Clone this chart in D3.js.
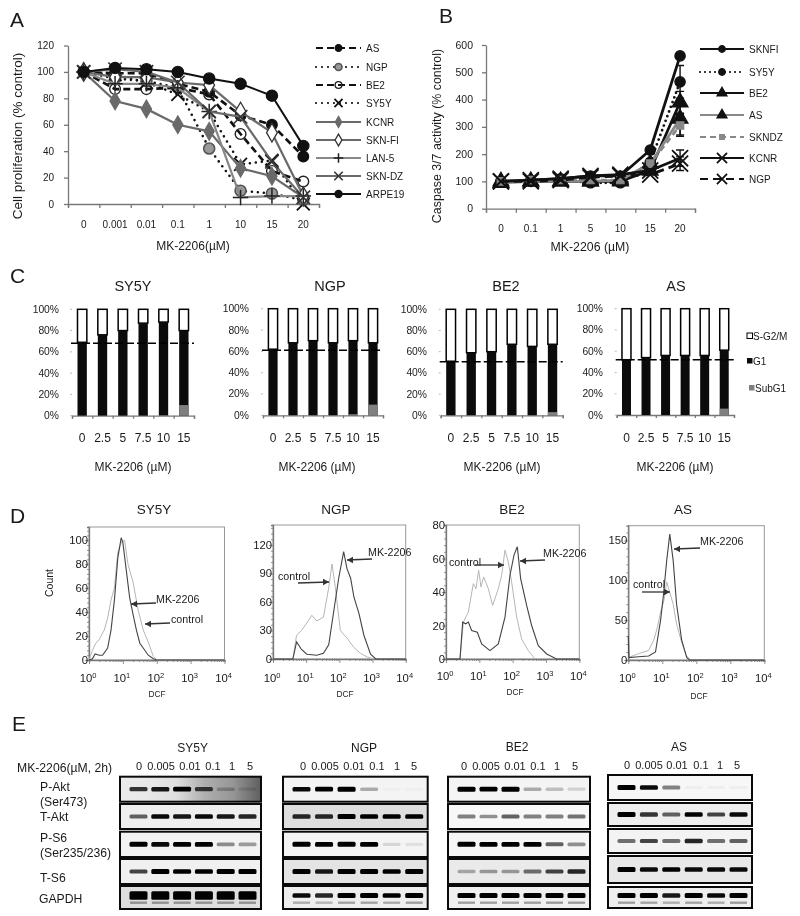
<!DOCTYPE html>
<html><head><meta charset="utf-8">
<script src="https://cdn.jsdelivr.net/npm/d3@7"></script>
<style>html,body{margin:0;padding:0;background:#fff}svg{display:block;filter:blur(.3px)}text{font-family:"Liberation Sans",Arial,sans-serif;fill:#1a1a1a}</style>
</head><body><div id="c"></div>
<script>
// ---------- Panel A data
const doseA=["0","0.001","0.01","0.1","1","10","15","20"];
const aAS=[100,99,99,91,85,67,60,36];
const aNGP=[100,95,93,88,42,10,8,3];
const aBE2=[100,87,87,88,83,53,25,17];
const aSY5Y=[100,98,92,83,70,30,33,0];
const aKCNR=[100,78,72,60,55,27,21,5];
const aSKNFI=[100,96,96,92,90,70,54,6];
const aLAN5=[100,91,91,88,70,5,6,6];
const aSKNDZ=[100,102,100,92,70,66,32,5];
const aARPE19=[100,103,102,100,95,91,82,44];
// ---------- Panel B data
const doseB=["0","0.1","1","5","10","15","20"];
const bSKNFI=[100,105,110,120,120,215,560];
const bSY5Y=[100,100,105,95,95,170,465];
const bBE2=[100,100,100,100,100,140,390];
const bAS=[95,100,100,100,105,165,330];
const bSKNDZ=[100,105,105,105,105,165,305];
const bKCNR=[100,105,110,120,125,140,185];
const bNGP=[100,100,105,115,120,125,165];
const errB20=[0,60,40,60,40,30,25];
// ---------- Panel C data
const doseC=["0","2.5","5","7.5","10","15"];
const cSY5Y=[69,76,80,87,88,80], cSY5Ysub=[0,0,0,0,.5,10];
const cNGP=[62,68,70,68,70,68], cNGPsub=[0,0,0,0,1,10];
const cBE2=[51,59,60,67,65,67], cBE2sub=[0,0,0,0,0,3];
const cAS=[52,54,56,56,56,61], cASsub=[0,0,0,0,0,6];
const cRef=[68,61,50.5,52];
// ---------- Panel D data: [log10 DCF, count]
const dSY5Ymk=[[0,0],[.1,1],[.18,5],[.3,4],[.4,4],[.55,10],[.65,25],[.75,50],[.85,85],[.95,102],[1,98],[1.1,75],[1.2,52],[1.3,38],[1.4,25],[1.5,14],[1.6,10],[1.75,4],[1.9,1],[2,0],[4,0]];
const dSY5Yctl=[[0,0],[.1,8],[.2,14],[.3,17],[.45,25],[.55,35],[.65,50],[.75,60],[.85,90],[.95,98],[1.05,100],[1.15,80],[1.3,65],[1.45,42],[1.6,25],[1.75,15],[1.9,3],[2,0],[4,0]];
const dNGPmk=[[0,0],[.6,0],[.71,18],[.86,10],[1.02,5],[1.32,4],[1.52,6],[1.68,15],[1.83,50],[1.98,85],[2.13,113],[2.23,95],[2.34,85],[2.44,65],[2.59,48],[2.74,25],[2.94,5],[3.1,0],[4,0]];
const dNGPctl=[[.6,0],[.71,25],[.86,30],[1.02,38],[1.17,46],[1.32,40],[1.52,44],[1.68,75],[1.78,100],[1.88,75],[2.03,30],[2.23,22],[2.44,12],[2.64,6],[2.84,2],[3.05,0]];
const dBE2mk=[[0,0],[.42,0],[.5,22],[.59,21],[.67,22],[.77,17],[.94,16],[1.07,9],[1.32,5],[1.57,9],[1.77,25],[1.92,50],[2.04,62],[2.14,67],[2.24,48],[2.42,32],[2.57,20],[2.77,8],[3.02,3],[3.32,0],[4,0]];
const dBE2ctl=[[.42,0],[.52,22],[.67,28],[.82,45],[.9,42],[.98,53],[1.05,43],[1.13,49],[1.27,42],[1.4,32],[1.57,42],[1.67,50],[1.77,65],[1.87,58],[1.97,46],[2.12,25],[2.27,12],[2.47,5],[2.67,0]];
const dASmk=[[0,30],[.02,3],[.3,4],[.6,5],[.8,10],[.95,50],[1.03,80],[1.13,125],[1.22,158],[1.32,125],[1.42,70],[1.57,25],[1.72,3],[1.81,0],[4,0]];
const dASctl=[[0,3],[.3,8],[.6,12],[.75,25],[.85,40],[.95,60],[1.05,75],[1.13,98],[1.22,85],[1.32,70],[1.42,45],[1.55,25],[1.7,6],[1.82,0]];
const dTicksSY5Y=[0,20,40,60,80,100], dTicksNGP=[0,30,60,90,120], dTicksBE2=[0,20,40,60,80], dTicksAS=[0,50,100,150];
// ---------- Panel E data (band darkness per lane)
const lanes=["0","0.005","0.01","0.1","1","5"];
const rowNames=["P-Akt","T-Akt","P-S6","T-S6","GAPDH"];
const eSY5Y=[[.65,.75,.85,.6,.2,.1],[.5,.8,.75,.8,.75,.7],[1,.8,.95,.9,.35,.3],[.6,.9,.85,.85,.9,.9],[1,1,1,1,1,1]];
const eNGP=[[.8,.85,.95,.25,.02,.02],[.7,.7,.9,.85,.85,.85],[1,.95,1,.95,.1,.07],[.9,.75,.95,.95,.85,1],[.8,.7,.9,.9,.85,.95]];
const eBE2=[[1,.85,.95,.25,.18,.12],[.4,.35,.5,.4,.4,.45],[1,.9,.9,.95,.5,.35],[.25,.3,.3,.45,.6,.7],[.95,.95,.95,.95,1,1]];
const eAS=[[1,.8,.4,.03,.03,.03],[.95,.65,.5,.85,.6,.8],[.45,.6,.45,.7,.45,.5],[.9,.8,.85,.8,.8,.8],[.95,.9,.75,.9,.8,1]];
const eBgSY5Y=[238,238,242,240,222], eBgNGP=[244,222,244,228,238], eBgBE2=[244,248,246,234,240], eBgAS=[247,238,243,232,238];
const sy5yAktBg=[235,232,222,175,150,95];

const W=800,H=916;
const svg=d3.select("#c").append("svg").attr("width",W).attr("height",H).attr("viewBox",[0,0,W,H]);
const T=(x,y,s,size,o={})=>svg.append("text").attr("x",x).attr("y",y).attr("font-size",size)
  .attr("text-anchor",o.a||"start").attr("transform",o.r?`rotate(${o.r} ${x} ${y})`:null).text(s);
const AX="#777";
function style(g){g.selectAll(".domain,line").attr("stroke",AX).attr("stroke-width",1.3);g.selectAll("text").remove();}

// panel letters
[["A",10,27],["B",439,23],["C",10,283],["D",10,523],["E",12,731]].forEach(d=>T(d[1],d[2],d[0],21));

// ---------- line panels
const sym=(t,s)=>d3.symbol().type(t).size(s)();
function linePanel(cfg){
  const y=d3.scaleLinear().domain(cfg.yd).range([cfg.y0,cfg.y1]);
  const n=cfg.cats.length;
  const tx=d3.scaleLinear().domain([0,n]).range([cfg.x0,cfg.x1]);
  const x=d3.scalePoint().domain(cfg.cats).range([tx(.5),tx(n-.5)]);
  svg.append("g").attr("transform",`translate(0,${cfg.y0})`).call(d3.axisBottom(tx).tickValues(d3.range(n+1)).tickSize(4).tickSizeOuter(4)).call(style);
  svg.append("g").attr("transform",`translate(${cfg.x0},0)`).call(d3.axisLeft(y).tickValues(d3.range(cfg.yd[0],cfg.yd[1]+1,cfg.step)).tickSize(4).tickSizeOuter(0)).call(style);
  d3.range(cfg.yd[0],cfg.yd[1]+1,cfg.step).forEach(v=>T(cfg.lx,y(v)+3.5,v,cfg.yfs,{a:"end"}));
  cfg.cats.forEach(c=>T(x(c),cfg.ty,c,10,{a:"middle"}));
  const line=d3.line().x((d,i)=>x(cfg.cats[i])).y(d=>y(d));
  cfg.series.forEach(s=>{
    if(s.err) svg.append("g").selectAll("path").data([s.err]).join("path")
      .attr("d",e=>{const X=x(cfg.cats[n-1]),v=s.v[n-1];return `M${X},${y(v-e)}V${y(v+e)}M${X-4},${y(v-e)}H${X+4}M${X-4},${y(v+e)}H${X+4}`})
      .attr("stroke","#111").attr("stroke-width",1.4).attr("fill","none");
    svg.append("path").attr("d",line(s.v)).attr("fill","none").attr("stroke",s.c).attr("stroke-width",s.w)
      .attr("stroke-dasharray",s.dash||null).attr("stroke-linecap",s.dash&&s.dash.startsWith("0")?"round":"butt");
    svg.append("g").selectAll("path").data(s.v).join("path")
      .attr("transform",(d,i)=>`translate(${x(cfg.cats[i])},${y(d)})`)
      .attr("d",sym(s.t,s.size)).attr("fill",s.f).attr("stroke",s.sc||s.c).attr("stroke-width",s.sw||1.2);
  });
  cfg.series.forEach((s,i)=>{
    const ly=cfg.legY[i];
    svg.append("line").attr("x1",cfg.legX).attr("x2",cfg.legX+cfg.legW).attr("y1",ly).attr("y2",ly)
      .attr("stroke",s.c).attr("stroke-width",Math.min(s.w,2.2)).attr("stroke-dasharray",s.dash||null)
      .attr("stroke-linecap",s.dash&&s.dash.startsWith("0")?"round":"butt");
    svg.append("path").attr("transform",`translate(${cfg.legX+cfg.legW/2},${ly})`).attr("d",sym(s.t,s.size*.4)).attr("fill",s.f).attr("stroke",s.sc||s.c).attr("stroke-width",s.sw||1.2);
    T(cfg.legX+cfg.legW+cfg.legGap,ly+3.5,s.n,10);
  });
}
const G="#6a6a6a";
linePanel({cats:doseA,yd:[0,120],step:20,x0:68,x1:319,y0:204,y1:45.5,lx:54,ty:228,yfs:10,legX:316,legW:45,legGap:5,
 legY:[48,67,85,103,122,140,158,176,194],
 series:[
 {n:"AS",v:aAS,c:"#111",w:2.6,dash:"7,4",t:d3.symbolCircle,size:90,f:"#111"},
 {n:"NGP",v:aNGP,c:"#111",w:2.6,dash:"0,6",t:d3.symbolCircle,size:95,f:"#999",sc:"#555",sw:1.6},
 {n:"BE2",v:aBE2,c:"#111",w:2.6,dash:"7,4",t:d3.symbolCircle,size:90,f:"none",sc:"#222",sw:1.4},
 {n:"SY5Y",v:aSY5Y,c:"#111",w:2.6,dash:"0,6",t:d3.symbolTimes,size:110,f:"none",sc:"#111",sw:1.8},
 {n:"KCNR",v:aKCNR,c:G,w:2.2,t:d3.symbolDiamond,size:90,f:G},
 {n:"SKN-FI",v:aSKNFI,c:G,w:2.2,t:d3.symbolDiamond,size:100,f:"#fff",sc:"#333",sw:1.3},
 {n:"LAN-5",v:aLAN5,c:"#888",w:2.2,t:d3.symbolPlus,size:80,f:"none",sc:"#222",sw:1.5},
 {n:"SKN-DZ",v:aSKNDZ,c:G,w:2.2,t:d3.symbolTimes,size:120,f:"none",sc:"#333",sw:1.6},
 {n:"ARPE19",v:aARPE19,c:"#111",w:2,t:d3.symbolCircle,size:100,f:"#111"}
 ]});
T(193,250,"MK-2206(µM)",12,{a:"middle"});
T(22,136,"Cell proliferation (% control)",13.5,{a:"middle",r:-90});

linePanel({cats:doseB,yd:[0,600],step:100,x0:486,x1:695,y0:208.7,y1:45,lx:473,ty:232,yfs:10.5,legX:700,legW:44,legGap:5,
 legY:[49,72,93,115,137,158,179],
 series:[
 {n:"SKNFI",v:bSKNFI,c:"#111",w:2.8,t:d3.symbolCircle,size:85,f:"#111",err:errB20[0]||null},
 {n:"SY5Y",v:bSY5Y,c:"#111",w:2.8,dash:"0,5",t:d3.symbolCircle,size:85,f:"#111",err:errB20[1]},
 {n:"BE2",v:bBE2,c:"#111",w:2.8,t:d3.symbolTriangle,size:110,f:"#111",err:errB20[2]},
 {n:"AS",v:bAS,c:"#888",w:2.8,t:d3.symbolTriangle,size:110,f:"#111",sc:"#111",err:errB20[3]},
 {n:"SKNDZ",v:bSKNDZ,c:"#888",w:2.8,dash:"6,4",t:d3.symbolSquare,size:55,f:"#888",err:errB20[4]},
 {n:"KCNR",v:bKCNR,c:"#111",w:2.8,t:d3.symbolTimes,size:170,f:"none",sc:"#111",sw:1.8,err:errB20[5]},
 {n:"NGP",v:bNGP,c:"#111",w:2.8,dash:"8,5",t:d3.symbolTimes,size:170,f:"none",sc:"#111",sw:1.8,err:errB20[6]}
 ]});
T(590,251,"MK-2206 (µM)",12.3,{a:"middle"});
T(441,136,"Caspase 3/7 activity (% control)",12.4,{a:"middle",r:-90});

// ---------- Panel C
function stack(cfg){
  const y=d3.scaleLinear().domain([0,100]).range([cfg.y0,cfg.y1]);
  const b=d3.scaleBand().domain(doseC).range([cfg.x0,cfg.x1]).paddingInner(.54).paddingOuter(.27);
  const tx=d3.scaleLinear().domain([0,6]).range([cfg.x0,cfg.x1]);
  svg.append("g").attr("transform",`translate(0,${cfg.y0})`).call(d3.axisBottom(tx).tickValues(d3.range(7)).tickSize(3).tickSizeOuter(3)).call(style);
  d3.range(0,101,20).forEach(v=>{T(cfg.lx,y(v)+3.5,v+"%",10.3,{a:"end"});
    svg.append("line").attr("x1",cfg.x0-2).attr("x2",cfg.x0).attr("y1",y(v)).attr("y2",y(v)).attr("stroke","#bbb");});
  const g=svg.append("g");
  g.selectAll(".w").data(cfg.g1).join("rect").attr("x",(d,i)=>b(doseC[i])).attr("width",b.bandwidth())
    .attr("y",y(100)).attr("height",d=>y(d)-y(100)).attr("fill","#fff").attr("stroke","#000").attr("stroke-width",1.5);
  g.selectAll(".k").data(cfg.g1).join("rect").attr("x",(d,i)=>b(doseC[i])).attr("width",b.bandwidth())
    .attr("y",d=>y(d)).attr("height",d=>y(0)-y(d)).attr("fill","#0b0b0b");
  g.selectAll(".s").data(cfg.sub).join("rect").attr("x",(d,i)=>b(doseC[i])).attr("width",b.bandwidth())
    .attr("y",d=>y(d)).attr("height",d=>y(0)-y(d)).attr("fill","#808080");
  svg.append("line").attr("x1",cfg.x0-1).attr("x2",cfg.x1).attr("y1",y(cfg.ref)).attr("y2",y(cfg.ref)).attr("stroke","#000").attr("stroke-width",1.5).attr("stroke-dasharray","8,3");
  doseC.forEach(c=>T(b(c)+b.bandwidth()/2,442,c,12,{a:"middle"}));
  T(cfg.xl,471,"MK-2206 (µM)",12,{a:"middle"});
  T(cfg.tl,291,cfg.name,14.5,{a:"middle"});
}
stack({name:"SY5Y",g1:cSY5Y,sub:cSY5Ysub,ref:cRef[0],x0:72,x1:194,y0:415.7,y1:309.3,lx:59,xl:133,tl:133});
stack({name:"NGP",g1:cNGP,sub:cNGPsub,ref:cRef[1],x0:263,x1:383,y0:415.3,y1:308.7,lx:249,xl:317,tl:330});
stack({name:"BE2",g1:cBE2,sub:cBE2sub,ref:cRef[2],x0:440.7,x1:562.7,y0:415.3,y1:309.3,lx:427,xl:502,tl:506});
stack({name:"AS",g1:cAS,sub:cASsub,ref:cRef[3],x0:616.7,x1:734,y0:415,y1:308.7,lx:603,xl:675,tl:676});
[["S-G2/M",336,"#fff",753],["G1",361,"#0b0b0b",753],["SubG1",388,"#808080",755]].forEach(d=>{
  svg.append("rect").attr("x",d[3]-6).attr("y",d[1]-3).attr("width",5.5).attr("height",5.5).attr("fill",d[2]).attr("stroke",d[2]==="#fff"?"#000":"none");
  T(d[3],d[1]+3.5,d[0],10);
});

// ---------- Panel D
function flow(cfg){
  const x=d3.scaleLog().domain([1,1e4]).range([cfg.x0,cfg.x1]);
  const y=d3.scaleLinear().domain([0,cfg.ymax]).range([cfg.y0,cfg.y1]);
  svg.append("rect").attr("x",cfg.x0).attr("y",cfg.y1).attr("width",cfg.x1-cfg.x0).attr("height",cfg.y0-cfg.y1).attr("fill","none").attr("stroke","#999").attr("stroke-width",1);
  const minor=[];for(let e=0;e<4;e++)for(let k=1;k<10;k++)minor.push(k*10**e);minor.push(1e4);
  const g=svg.append("g").attr("transform",`translate(0,${cfg.y0})`).call(d3.axisBottom(x).tickValues(minor).tickSize(2).tickFormat("")).call(style);
  g.selectAll("line").attr("stroke-width",.8).attr("y2",d=>Math.abs(Math.log10(d)%1)<1e-6?4:2);
  const step=cfg.ticks[1]/5;
  const h=svg.append("g").attr("transform",`translate(${cfg.x0},0)`).call(d3.axisLeft(y).tickValues(d3.range(0,cfg.ymax,step)).tickSize(2).tickFormat("")).call(style);
  h.selectAll("line").attr("stroke-width",.8).attr("x2",d=>d%cfg.ticks[1]===0?-4:-2);
  cfg.ticks.forEach(v=>T(cfg.x0+cfg.ylx,y(v)+4,v,11.3,{a:"end"}));
  [0,1,2,3,4].forEach(e=>{
    const t=T(x(10**e)+cfg.lo-3,cfg.ly,"10",11.3,{a:"middle"});
    t.append("tspan").attr("dy",-4).attr("font-size",7.5).text(e);
  });
  const ln=d3.line().x(d=>x(10**d[0])).y(d=>y(d[1]));
  svg.append("path").attr("d",ln(cfg.ctl)).attr("fill","none").attr("stroke","#b5b5b5").attr("stroke-width",1);
  svg.append("path").attr("d",ln(cfg.mk)).attr("fill","none").attr("stroke","#444").attr("stroke-width",1.1);
  T(cfg.tl,cfg.tly,cfg.name,13.5,{a:"middle"});
  T(cfg.dl,cfg.dly,"DCF",8.3,{a:"middle"});
  cfg.notes.forEach(n=>{
    T(n[1],n[2],n[0],10.7);
    const dir=n[5]>n[3]?1:-1;
    svg.append("path").attr("d",`M${n[3]},${n[4]}L${n[5]},${n[6]}`).attr("stroke","#333").attr("stroke-width",1.3);
    svg.append("path").attr("d",`M${n[5]},${n[6]}l${-dir*6},-3.2v6.4z`).attr("fill","#333");
  });
}
flow({name:"SY5Y",x0:89,x1:224.5,y0:660,y1:527,ymax:111,ticks:dTicksSY5Y,ctl:dSY5Yctl,mk:dSY5Ymk,ylx:-1,lo:2,ly:682,tl:154,tly:514,dl:157,dly:697,
 notes:[["MK-2206",156,603,156,603,131,604],["control",171,623,170,623,145,624]]});
flow({name:"NGP",x0:273,x1:405.7,y0:659,y1:525,ymax:141,ticks:dTicksNGP,ctl:dNGPctl,mk:dNGPmk,ylx:-1,lo:2,ly:682,tl:336,tly:514,dl:345,dly:697,
 notes:[["MK-2206",368,556,372,559,347,560],["control",278,580,298,583,329,582]]});
flow({name:"BE2",x0:446,x1:579.3,y0:659,y1:525,ymax:80,ticks:dTicksBE2,ctl:dBE2ctl,mk:dBE2mk,ylx:-1,lo:2,ly:680,tl:512,tly:514,dl:515,dly:695,
 notes:[["MK-2206",543,557,545,560,520,561],["control",449,566,475,565,504,565]]});
flow({name:"AS",x0:628.3,x1:764.3,y0:660,y1:525.7,ymax:168.5,ticks:dTicksAS,ctl:dASctl,mk:dASmk,ylx:-1,lo:2,ly:682,tl:683,tly:514,dl:699,dly:699,
 notes:[["MK-2206",700,545,700,548,674,549],["control",633,588,642,592,670,592]]});
T(53,583,"Count",10.5,{a:"middle",r:-90});

// ---------- Panel E
const defs=svg.append("defs");
defs.append("filter").attr("id","b").attr("x","-20%").attr("y","-100%").attr("width","140%").attr("height","300%")
  .append("feGaussianBlur").attr("stdDeviation",.7);
const gr=defs.append("linearGradient").attr("id","aktbg");
sy5yAktBg.forEach((v,i)=>gr.append("stop").attr("offset",i/(sy5yAktBg.length-1)).attr("stop-color",d3.rgb(v,v,v)));
function blot(cfg){
  const x=d3.scalePoint().domain(d3.range(6)).range([cfg.x0+18.5,cfg.x1-13.5]);
  lanes.forEach((l,i)=>T(cfg.lab[i],cfg.laby,l,11,{a:"middle"}));
  T(cfg.tl,cfg.tly,cfg.name,12,{a:"middle"});
  cfg.data.forEach((row,r)=>{
    const [a,b]=cfg.rows[r],cy=(a+b)/2;
    const bg=cfg.name==="SY5Y"&&r===0?"url(#aktbg)":d3.rgb(cfg.bg[r],cfg.bg[r],cfg.bg[r]);
    svg.append("rect").attr("x",cfg.x0).attr("y",a).attr("width",cfg.x1-cfg.x0).attr("height",b-a).attr("fill",bg).attr("stroke","#0a0a0a").attr("stroke-width",2);
    const g=svg.append("g").attr("filter","url(#b)");
    const h=r===4?(cfg.name==="SY5Y"?6.5:3):3;
    const off=r===4?-2:0;
    g.selectAll("rect").data(row).join("rect").attr("x",(d,i)=>x(i)-9).attr("width",18)
      .attr("y",d=>cy+off-(h+d*2)/2).attr("height",d=>h+d*2).attr("rx",1.5).attr("fill","#000")
      .attr("opacity",d=>Math.min(1,d*1.2));
    if(r===4) svg.append("g").attr("filter","url(#b)").selectAll("rect").data(row).join("rect")
      .attr("x",(d,i)=>x(i)-8.5).attr("width",17).attr("y",cy+4).attr("height",2.4).attr("fill","#000").attr("opacity",d=>d*.35);
  });
}
const rows1=[[776.7,801.7],[804,829],[831.7,857],[859,884],[886,909]];
const rowsAS=[[775,800],[803,826],[829,853],[856,883],[887,908]];
blot({name:"SY5Y",x0:120,x1:261,rows:rows1,data:eSY5Y,bg:eBgSY5Y,lab:[139,161,190,213,232,250],laby:770,tl:192.7,tly:752});
blot({name:"NGP",x0:283,x1:427.7,rows:rows1,data:eNGP,bg:eBgNGP,lab:[303,325,354,377,397,414],laby:770,tl:364,tly:752});
blot({name:"BE2",x0:448,x1:590,rows:rows1,data:eBE2,bg:eBgBE2,lab:[464,486,515,538,557,575],laby:770,tl:517,tly:751});
blot({name:"AS",x0:608,x1:752,rows:rowsAS,data:eAS,bg:eBgAS,lab:[627,649,677,701,720,737],laby:769,tl:679,tly:751});
T(17,772,"MK-2206(µM, 2h)",12.2);
[["P-Akt",40,791],["(Ser473)",40,806],["T-Akt",40,821],["P-S6",40,842],["(Ser235/236)",40,857],["T-S6",40,882],["GAPDH",39,903]]
 .forEach(d=>T(d[1],d[2],d[0],12.2));
</script></body></html>
